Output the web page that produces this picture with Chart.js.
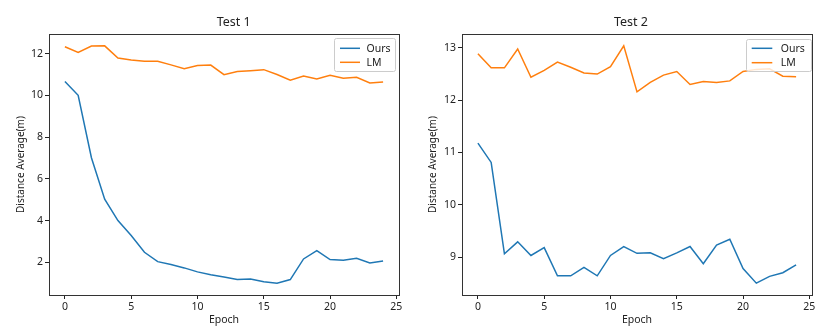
<!DOCTYPE html>
<html><head><meta charset="utf-8">
<script src="https://cdn.jsdelivr.net/npm/chart.js@4/dist/chart.umd.min.js"></script>
<style>
html,body{margin:0;padding:0;background:#fff;}
#wrap{position:relative;width:831px;height:330px;overflow:hidden;background:#fff;}
.box{position:absolute;top:0;height:330px;}
canvas{display:block;}
</style></head><body>
<div id="wrap">
<div class="box" style="left:0;width:415px"><canvas id="c1" width="415" height="330"></canvas></div>
<div class="box" style="left:415px;width:416px"><canvas id="c2" width="416" height="330"></canvas></div>
</div>
<script>
// ---- data ----
const epochs = [0,1,2,3,4,5,6,7,8,9,10,11,12,13,14,15,16,17,18,19,20,21,22,23,24];
const seriesLabels = ['Ours', 'LM'];
const test1Ours = [10.66,10.0,7.01,5.02,4.0,3.28,2.48,2.03,1.89,1.73,1.54,1.40,1.29,1.18,1.20,1.07,1.0,1.17,2.16,2.56,2.13,2.10,2.19,1.97,2.06];
const test1LM   = [12.33,12.05,12.36,12.37,11.79,11.69,11.63,11.63,11.46,11.28,11.43,11.45,10.99,11.14,11.18,11.23,11.0,10.72,10.93,10.78,10.96,10.82,10.86,10.59,10.64];
const test2Ours = [11.18,10.81,9.06,9.29,9.03,9.18,8.64,8.64,8.80,8.64,9.03,9.20,9.07,9.08,8.97,9.08,9.20,8.87,9.23,9.34,8.78,8.50,8.63,8.70,8.85];
const test2LM   = [12.89,12.62,12.62,12.98,12.44,12.57,12.73,12.63,12.52,12.50,12.64,13.04,12.16,12.34,12.48,12.55,12.30,12.36,12.34,12.37,12.55,12.59,12.60,12.46,12.45];
const xTicks = [0,5,10,15,20,25];
const test1YTicks = [2,4,6,8,10,12];
const test2YTicks = [9,10,11,12,13];
const titles = ['Test 1', 'Test 2'];
const xTitle = 'Epoch';
const yTitle = 'Distance Average(m)';

const FONT = '"Noto Sans", "DejaVu Sans", sans-serif';
const TEXT = '#222222';
const BLUE = '#1f77b4';
const ORANGE = '#ff7f0e';
Chart.defaults.font.family = FONT;
Chart.defaults.color = TEXT;

function limits(arrs) {
  const all = [].concat(...arrs);
  const mn = Math.min(...all), mx = Math.max(...all);
  const pad = (mx - mn) * 0.05;
  return [mn - pad, mx + pad];
}

const framePlugin = {
  id: 'frame',
  afterDatasetsDraw(chart, args, o) {
    const {ctx, chartArea: a} = chart;
    ctx.save();
    ctx.strokeStyle = o.color || '#333';
    ctx.lineWidth = 1;
    const l = Math.round(a.left) + 0.5, t = Math.round(a.top) + 0.5;
    ctx.strokeRect(l, t, Math.round(a.right) - Math.round(a.left), Math.round(a.bottom) - Math.round(a.top));
    ctx.restore();
  }
};

const legendPlugin = {
  id: 'boxLegend',
  afterDraw(chart, args, o) {
    const ctx = chart.ctx;
    ctx.save();
    ctx.beginPath();
    ctx.roundRect(o.x + 0.5, o.y + 0.5, o.w, o.h, 2);
    ctx.fillStyle = 'rgba(255,255,255,0.8)';
    ctx.fill();
    ctx.strokeStyle = '#cccccc';
    ctx.lineWidth = 1;
    ctx.stroke();
    chart.data.datasets.forEach((ds, i) => {
      const yy = o.y + o.firstRow + i * o.rowGap;
      ctx.strokeStyle = ds.borderColor;
      ctx.lineWidth = ds.borderWidth;
      ctx.beginPath();
      ctx.moveTo(o.x + o.lineStart, yy);
      ctx.lineTo(o.x + o.lineStart + o.lineLen, yy);
      ctx.stroke();
      ctx.fillStyle = TEXT;
      ctx.font = '10.5px ' + FONT;
      ctx.textAlign = 'left';
      ctx.textBaseline = 'middle';
      ctx.fillText(ds.label, o.x + o.textStart, yy + 0.5);
    });
    ctx.restore();
  }
};

const titlePlugin = {
  id: 'plotTitle',
  afterDraw(chart, args, o) {
    const ctx = chart.ctx;
    ctx.save();
    ctx.fillStyle = TEXT;
    ctx.font = '12.5px ' + FONT;
    ctx.textAlign = 'center';
    ctx.textBaseline = 'alphabetic';
    ctx.fillText(o.text, o.x, o.y);
    ctx.restore();
  }
};

function makeChart(id, ours, lm, yTicks, title, cfg) {
  const [ymin, ymax] = limits([ours, lm]);
  const [xmin, xmax] = limits([epochs]);
  return new Chart(document.getElementById(id), {
    type: 'line',
    data: {
      datasets: [
        {label: seriesLabels[0], data: epochs.map((e, i) => ({x: e, y: ours[i]})), borderColor: BLUE, backgroundColor: BLUE, borderWidth: 1.5, pointRadius: 0, tension: 0, fill: false},
        {label: seriesLabels[1], data: epochs.map((e, i) => ({x: e, y: lm[i]})), borderColor: ORANGE, backgroundColor: ORANGE, borderWidth: 1.5, pointRadius: 0, tension: 0, fill: false}
      ]
    },
    options: {
      responsive: false,
      animation: false,
      events: [],
      layout: {padding: {top: 34, right: cfg.padRight, bottom: 0, left: 0}},
      plugins: {
        legend: {display: false},
        tooltip: {enabled: false},
        title: {display: false},
        frame: {color: '#333333'},
        boxLegend: cfg.legend,
        plotTitle: {text: title, x: cfg.titleX, y: 25.5}
      },
      scales: {
        x: {
          type: 'linear', min: xmin, max: xmax,
          afterBuildTicks: s => { s.ticks = xTicks.map(v => ({value: v})); },
          afterFit: s => { s.height = 35; },
          border: {display: false},
          grid: {display: true, drawOnChartArea: false, drawTicks: true, tickLength: 4, tickColor: '#222', tickWidth: 1},
          ticks: {color: TEXT, font: {size: 10.5}, padding: 2, maxRotation: 0, autoSkip: false},
          title: {display: true, text: xTitle, color: TEXT, font: {size: 10.5}, padding: {top: 0, bottom: 4}}
        },
        y: {
          type: 'linear', min: ymin, max: ymax,
          afterBuildTicks: s => { s.ticks = yTicks.map(v => ({value: v})); },
          afterFit: s => { s.width = cfg.yWidth; },
          border: {display: false},
          grid: {display: true, drawOnChartArea: false, drawTicks: true, tickLength: 4, tickColor: '#222', tickWidth: 1},
          ticks: {color: TEXT, font: {size: 10.5}, padding: 2},
          title: {display: true, text: yTitle, color: TEXT, font: {size: 10}, padding: {top: cfg.yTitlePad, bottom: 0}}
        }
      }
    },
    plugins: [framePlugin, legendPlugin, titlePlugin]
  });
}

makeChart('c1', test1Ours, test1LM, test1YTicks, titles[0], {
  padRight: 16, yWidth: 49, yTitlePad: 15.5, titleX: 233.7,
  legend: {x: 334, y: 38, w: 61, h: 33, firstRow: 10.3, rowGap: 14, lineStart: 6, lineLen: 20, textStart: 32.5}
});
makeChart('c2', test2Ours, test2LM, test2YTicks, titles[1], {
  padRight: 19, yWidth: 47, yTitlePad: 12.5, titleX: 216,
  legend: {x: 331, y: 39, w: 65, h: 32, firstRow: 9.3, rowGap: 14.4, lineStart: 5.7, lineLen: 20.6, textStart: 34.7}
});
</script>
</body></html>
